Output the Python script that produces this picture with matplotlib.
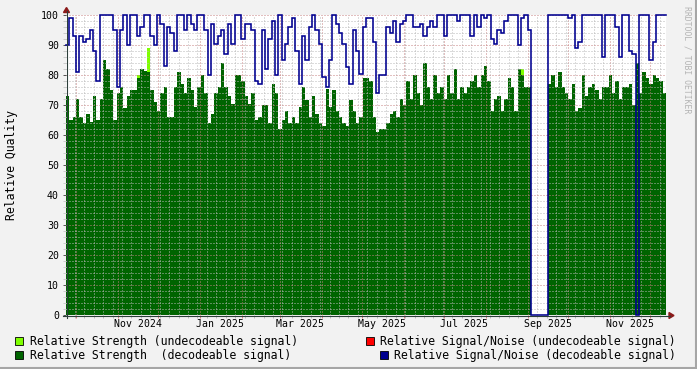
import numpy as np
import pandas as pd
import matplotlib
matplotlib.use("Agg")
import matplotlib.pyplot as plt
import matplotlib.dates as mdates
from matplotlib.lines import Line2D
from matplotlib.patches import Rectangle, Polygon

# ---------------- data ----------------
start = "2024-09-23 12:00"
step = "60h"

strength_decodeable = [
    73, 65, 66, 72, 66, 64, 67, 64.5, 73, 65, 72, 85, 82, 75, 65, 74, 76, 69, 73, 75,
    75, 79, 82, 81.5, 81, 75, 71, 68, 74, 76,
    66, 66, 76, 81, 77, 74, 79, 75, 69.5, 76, 80, 74, 64, 67, 74, 76, 84, 76, 73, 70.5,
    80, 80, 78, 73, 70.5, 74, 65, 66, 70, 70,
    64, 77, 74, 62, 65, 68, 64, 66, 64, 69.5, 76, 71.7, 66, 73, 67, 64, 63, 75.5, 69.5, 75,
    68, 66, 64, 63, 71.7, 68, 64, 66, 79,
    79, 78, 66, 61, 62, 62, 64, 67, 68, 66, 72, 70, 78, 72, 80, 74, 70, 84, 76, 72,
    80, 74, 76, 72, 80, 74, 82, 72, 76, 74,
    76, 78, 80, 76, 80, 83, 78, 68, 72, 73, 68, 72, 79, 76, 68, 82, 80, 76, 76,
    0, 0, 0, 0, 0,
    77, 80, 76, 81, 76, 74,
    72, 77, 68, 69, 80, 73, 76, 77, 75, 72, 76, 76, 80, 74, 78, 72, 76, 76, 77, 70,
    84, 74, 81, 79, 77, 80, 79, 78, 74,
]

sn_decodeable = [
    90, 99, 93, 81, 93, 91, 92, 95, 88, 78, 100, 100, 100, 100, 95, 76, 95, 100, 90, 100,
    100, 93, 96, 100, 100, 93, 90, 100, 97, 83,
    96, 94, 88, 100, 100, 95, 100, 97, 95, 100, 100, 95, 80, 97, 90.5, 93, 95, 87, 97, 90.5,
    100, 100, 92, 97, 97, 95, 78, 77, 95, 82,
    92, 98, 80, 100, 85, 90.5, 96, 99, 88, 77, 93, 85, 96, 100, 95, 90.5, 79.5, 76, 85, 100,
    97, 94, 90.5, 82.8, 77, 95, 88, 80.5, 96,
    99, 99, 91, 74, 80, 80, 96, 94, 98, 91, 97, 98, 100, 100, 96, 96, 97, 93, 96, 98,
    96, 100, 100, 93, 100, 100, 100, 98, 100, 100,
    100, 93, 100, 96, 100, 99, 100, 92, 90.5, 95, 94, 98, 100, 100, 100, 90, 99, 100, 95,
    0, 0, 0, 0, 0,
    100, 100, 100, 100, 100, 100,
    99, 100, 89, 91, 100, 100, 100, 100, 100, 100, 86, 100, 100, 100, 96, 86, 100, 100, 88, 87,
    0, 100, 100, 100, 85, 91, 100, 100, 100,
]

undecodeable_idx = [21, 24, 135]
undecodeable_strength = [80, 89, 82]

x_labels = ["Nov 2024", "Jan 2025", "Mar 2025", "May 2025", "Jul 2025", "Sep 2025", "Nov 2025"]

legend_items = [
    ("Relative Strength (undecodeable signal)", "#7FFF00"),
    ("Relative Signal/Noise (undecodeable signal)", "#FF0000"),
    ("Relative Strength  (decodeable signal)", "#006400"),
    ("Relative Signal/Noise (decodeable signal)", "#000090"),
]

# ---------------- figure ----------------
W, H, DPI = 697, 369, 100
MONO = "DejaVu Sans Mono"
plt.rcParams["font.family"] = [MONO]

fig = plt.figure(figsize=(W / DPI, H / DPI), dpi=DPI, facecolor="#F2F2F2")
ax = fig.add_axes([66 / W, (H - 315) / H, 600 / W, 300 / H])
ax.set_facecolor("white")

n = len(strength_decodeable)
edges = pd.date_range(start, periods=n + 1, freq=step)
xe = mdates.date2num(edges)

strong = np.array(strength_decodeable, float)
weak = np.zeros(n)
weak[undecodeable_idx] = undecodeable_strength
sn = np.array(sn_decodeable, float)

ax.fill_between(xe, 0, np.r_[weak, weak[-1]], step="post", color="#7FFF00", lw=0, zorder=1)
ax.fill_between(xe, 0, np.r_[strong, strong[-1]], step="post", color="#006400", lw=0, zorder=2)
ax.step(xe, np.r_[sn, sn[-1]], where="post", color="#000090", lw=1.15, zorder=4,
        clip_on=False, solid_joinstyle="miter")

ax.set_xlim(xe[0], xe[-1])
ax.set_ylim(0, 100)

# grid (semi-transparent so it lightens the green area like the original)
mgrid = (0.78, 0.5, 0.5, 0.45)
grid = (0.72, 0.72, 0.72, 0.45)
ax.xaxis.set_major_locator(mdates.MonthLocator())
ax.xaxis.set_minor_locator(mdates.WeekdayLocator(byweekday=mdates.MO))
ax.set_yticks(np.arange(0, 101, 10))
ax.set_yticks(np.arange(0, 101, 2), minor=True)
ax.set_axisbelow(False)
ax.grid(which="major", color=mgrid, lw=0.72, ls=(0, (1, 2)))
ax.grid(which="minor", color=grid, lw=0.72, ls=(0, (1, 2)))
ax.tick_params(axis="x", which="major", length=2, width=0.72, color=(0.85, 0.5, 0.5), labelbottom=False)
ax.tick_params(axis="x", which="minor", length=2, width=0.72, color=(0.75, 0.75, 0.75))
ax.tick_params(axis="y", which="major", length=2.5, width=0.72, color="#555555",
               labelsize=7.1, pad=2.5)
ax.tick_params(axis="y", which="minor", length=2, width=0.72, color=(0.8, 0.8, 0.8))
for s in ax.spines.values():
    s.set_visible(False)

for lab in x_labels:
    d = pd.Timestamp(pd.to_datetime(lab, format="%b %Y")) + pd.Timedelta(days=15)
    ax.text(mdates.date2num(d), -0.03, lab, transform=ax.get_xaxis_transform(),
            ha="center", va="center", fontsize=7.1, family=MONO)

# axes lines + arrows (pixel coords)
def fx(px):
    return px / W

def fy(py):
    return 1 - py / H

axis_col = "#2C3E3A"
arrow_col = "#8B1A1A"
fig.add_artist(Line2D([fx(66.5), fx(66.5)], [fy(318), fy(11)], color=axis_col, lw=0.8))
fig.add_artist(Line2D([fx(63), fx(670)], [fy(315.5), fy(315.5)], color=axis_col, lw=0.8))
fig.add_artist(Polygon([[fx(63.5), fy(12.5)], [fx(69.5), fy(12.5)], [fx(66.5), fy(7.5)]],
                       closed=True, color=arrow_col, transform=fig.transFigure))
fig.add_artist(Polygon([[fx(669), fy(312.5)], [fx(669), fy(318.5)], [fx(674), fy(315.5)]],
                       closed=True, color=arrow_col, transform=fig.transFigure))

# y label
fig.text(fx(11.5), fy(165), "Relative Quality", rotation=90, ha="center", va="center",
         fontsize=8.3, family=MONO)

# watermark
fig.text(fx(687.5), fy(60), "RRDTOOL / TOBI OETIKER", rotation=270, ha="center", va="center",
         fontsize=5.9, family=MONO, color="#B4B4B4")

# legend
positions = [(15, 341, 30), (366, 341, 380), (15, 355, 30), (380, 355, 394)]
for (label, col), (bx, cy, tx) in zip(legend_items, positions):
    fig.add_artist(Rectangle((fx(bx), fy(cy + 4)), 8 / W, 8 / H, transform=fig.transFigure,
                             facecolor=col, edgecolor="black", lw=0.6))
    fig.text(fx(tx), fy(cy), label, ha="left", va="center", fontsize=8.3, family=MONO)

# frame shading
fig.add_artist(Line2D([0, 1], [fy(367.5), fy(367.5)], color="#A6A6A6", lw=1.5))
fig.add_artist(Line2D([fx(695.5), fx(695.5)], [0, 1], color="#A6A6A6", lw=1.5))

fig.savefig("out.png", dpi=DPI, facecolor=fig.get_facecolor())
